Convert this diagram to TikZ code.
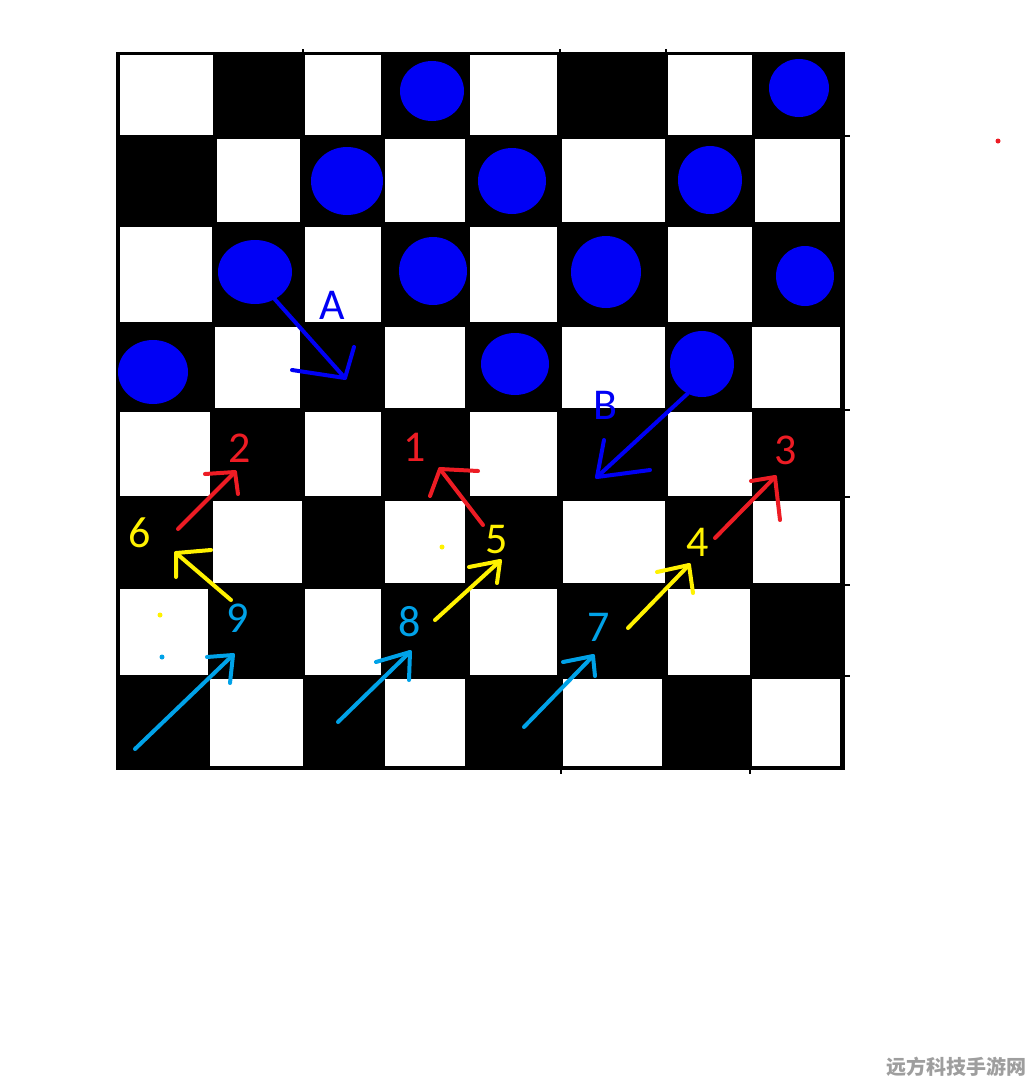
\documentclass[tikz,border=0pt]{standalone}
\usepackage{fontspec}
\setmainfont{Carlito}
\newfontfamily\cjkfont{Noto Sans CJK SC}
\usetikzlibrary{shapes.geometric}
\definecolor{pieceblue}{RGB}{0,0,245}
\definecolor{movered}{RGB}{237,28,36}
\definecolor{moveyellow}{RGB}{255,242,0}
\definecolor{movecyan}{RGB}{0,162,232}
\tikzstyle{piece} = [ellipse, fill=pieceblue, inner sep=0pt]
\tikzstyle{stroke} = [line width=4pt, line cap=round, line join=round]
\tikzstyle{digit} = [font=\fontsize{44}{44}\selectfont, inner sep=0pt]
\tikzstyle{speck} = [circle, inner sep=0pt, minimum size=5pt]

\begin{document}
\begin{tikzpicture}[x=1pt, y=-1pt]
        \useasboundingbox[fill=white] (0,0) rectangle (1034,1085);

        % board
        \fill[black] (116,52) rectangle (845,770);
        \foreach \ya/\yb/\cells in {55/135/{120/213,305/381,470/557,668/752},
                                   139/222/{217/300,385/465,562/665,755/840},
                                   227/322/{120/212,305/381,470/557,668/752},
                                   327/408/{215/300,385/465,562/665,752/840},
                                   412/496/{120/210,305/381,470/557,668/752},
                                   501/583/{213/302,385/465,563/665,753/840},
                                   589/675/{120/208,305/381,470/557,668/750},
                                   679/766/{210/303,385/465,563/662,752/840}}
            \foreach \xa/\xb in \cells
                \fill[white] (\xa,\ya) rectangle (\xb,\yb);
        \foreach \ty in {136,410,497,585,676}
            \draw[line width=2pt] (845,\ty) -- (850,\ty);
        \foreach \tx in {303,560,666}
            \draw[line width=2pt] (\tx,52) -- (\tx,49);
        \foreach \tx in {561,750}
            \draw[line width=2pt] (\tx,770) -- (\tx,774);

        % pieces
        \node (p1) [piece, minimum width=64, minimum height=60] at (432,91) {};
        \node (p2) [piece, minimum width=60, minimum height=58] at (799,88) {};
        \node (p3) [piece, minimum width=72, minimum height=68] at (347,181) {};
        \node (p4) [piece, minimum width=68, minimum height=66] at (512,181) {};
        \node (p5) [piece, minimum width=64, minimum height=68] at (710,180) {};
        \node (pA) [piece, minimum width=74, minimum height=64] at (255,272) {};
        \node (p6) [piece, minimum width=68, minimum height=68] at (433,271) {};
        \node (p7) [piece, minimum width=70, minimum height=72] at (606,272) {};
        \node (p8) [piece, minimum width=58, minimum height=60] at (805,276) {};
        \node (p9) [piece, minimum width=70, minimum height=64] at (153,372) {};
        \node (p10) [piece, minimum width=68, minimum height=62] at (515,364) {};
        \node (pB) [piece, minimum width=64, minimum height=66] at (702,364) {};

        % labels
        \node (labA) [digit, text=pieceblue] at (332,305) {A};
        \node (labB) [digit, text=pieceblue] at (605,405) {B};
        \node (lab1) [digit, text=movered] at (415,447) {1};
        \node (lab2) [digit, text=movered] at (240,448) {2};
        \node (lab3) [digit, text=movered] at (786,450) {3};
        \node (lab4) [digit, text=moveyellow] at (698,542) {4};
        \node (lab5) [digit, text=moveyellow] at (497,540) {5};
        \node (lab6) [digit, text=moveyellow] at (140,533) {6};
        \node (lab7) [digit, text=movecyan] at (599,627) {7};
        \node (lab8) [digit, text=movecyan] at (410,622) {8};
        \node (lab9) [digit, text=movecyan] at (238,618) {9};

        % tails and tips of the moves
        \coordinate (tipA) at (345,378);
        \coordinate (tipB) at (597,477);
        \coordinate (tail1) at (483,525);  \coordinate (tip1) at (440,469);
        \coordinate (tail2) at (178,529);  \coordinate (tip2) at (235,472);
        \coordinate (tail3) at (715,538);  \coordinate (tip3) at (775,477);
        \coordinate (tail4) at (628,628);  \coordinate (tip4) at (689,565);
        \coordinate (tail5) at (435,620);  \coordinate (tip5) at (500,561);
        \coordinate (tail6) at (231,600);  \coordinate (tip6) at (176,553);
        \coordinate (tail7) at (524,727);  \coordinate (tip7) at (593,656);
        \coordinate (tail8) at (338,722);  \coordinate (tip8) at (410,652);
        \coordinate (tail9) at (135,749);  \coordinate (tip9) at (233,655);

        \draw [stroke, pieceblue] (pA.-54) -- (tipA);
        \draw [stroke, pieceblue] (292,370) -- (tipA) -- (354,347);
        \draw [stroke, pieceblue] (pB.-116) -- (tipB);
        \draw [stroke, pieceblue] (604,440) -- (tipB) -- (650,470);

        \draw [stroke, movered] (tail1) -- (tip1);
        \draw [stroke, movered] (430,496) -- (tip1) -- (478,471);
        \draw [stroke, movered] (tail2) -- (tip2);
        \draw [stroke, movered] (205,474) -- (tip2) -- (238,494);
        \draw [stroke, movered] (tail3) -- (tip3);
        \draw [stroke, movered] (751,481) -- (tip3) -- (780,520);

        \draw [stroke, moveyellow] (tail4) -- (tip4);
        \draw [stroke, moveyellow] (657,572) -- (tip4) -- (693,593);
        \draw [stroke, moveyellow] (tail5) -- (tip5);
        \draw [stroke, moveyellow] (469,567) -- (tip5) -- (497,583);
        \draw [stroke, moveyellow] (tail6) -- (tip6);
        \draw [stroke, moveyellow] (176,577) -- (tip6) -- (211,550);

        \draw [stroke, movecyan] (tail7) -- (tip7);
        \draw [stroke, movecyan] (563,662) -- (tip7) -- (595,676);
        \draw [stroke, movecyan] (tail8) -- (tip8);
        \draw [stroke, movecyan] (376,662) -- (tip8) -- (409,680);
        \draw [stroke, movecyan] (tail9) -- (tip9);
        \draw [stroke, movecyan] (207,657) -- (tip9) -- (230,683);

        % stray specks
        \node (dotY1) [speck, fill=moveyellow] at (442,547) {};
        \node (dotY2) [speck, fill=moveyellow] at (160,615) {};
        \node (dotC) [speck, fill=movecyan] at (162,657) {};
        \node (dotR) [speck, fill=movered] at (998,141) {};

        \node (mark) [text=black!38, font=\fontsize{20}{20}\selectfont\cjkfont\bfseries] at (956,1067) {远方科技手游网};
    \end{tikzpicture}
\end{document}
